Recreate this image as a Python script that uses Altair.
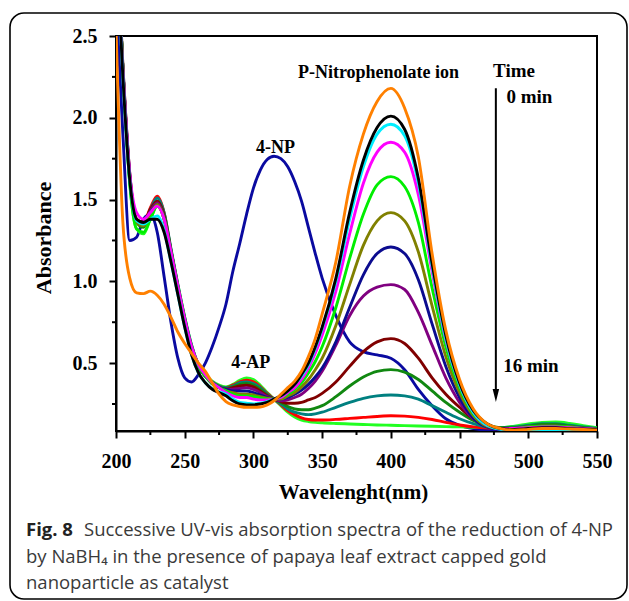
import altair as alt
import pandas as pd

# ---------------- data ----------------
WAVELENGTHS = [200, 205, 210, 215, 220, 225, 230, 235, 240, 245, 250, 255, 260, 265, 270, 275,
               280, 285, 290, 295, 300, 305, 310, 315, 320, 325, 330, 335, 340, 345, 350,
               360, 370, 380, 390, 400, 410, 420, 430, 440, 450, 460, 470, 480, 490, 500,
               510, 520, 530, 540, 550]

NP_ONLY = [2.75, 1.90, 1.25, 1.27, 1.38, 1.41, 1.30, 1.03, 0.75, 0.53, 0.41, 0.385, 0.43, 0.50, 0.60, 0.72,
           0.86, 1.06, 1.23, 1.41, 1.57, 1.68, 1.745, 1.765, 1.75, 1.70, 1.61, 1.49, 1.33, 1.17, 1.02,
           0.79, 0.63, 0.57, 0.55, 0.53, 0.46, 0.34, 0.24, 0.16, 0.12, 0.10, 0.09, 0.088, 0.088, 0.09,
           0.095, 0.095, 0.092, 0.09, 0.088]
ORANGE = [2.55, 1.36, 1.02, 0.93, 0.925, 0.94, 0.915, 0.86, 0.78, 0.69, 0.62, 0.56, 0.50, 0.45, 0.38, 0.31,
          0.265, 0.245, 0.235, 0.23, 0.23, 0.232, 0.245, 0.27, 0.31, 0.35, 0.39, 0.45, 0.54, 0.65, 0.80,
          1.12, 1.58, 1.90, 2.10, 2.18, 2.06, 1.76, 1.17, 0.70, 0.40, 0.22, 0.13, 0.10, 0.09, 0.095,
          0.10, 0.10, 0.097, 0.094, 0.09]
BLACK = [3.1, 2.25, 1.62, 1.38, 1.36, 1.38, 1.38, 1.30, 1.12, 0.92, 0.72, 0.55, 0.44, 0.38, 0.34, 0.32,
         0.30, 0.27, 0.25, 0.245, 0.245, 0.25, 0.26, 0.28, 0.30, 0.33, 0.37, 0.43, 0.50, 0.60, 0.72,
         1.02, 1.42, 1.74, 1.94, 2.01, 1.93, 1.63, 1.11, 0.67, 0.38, 0.21, 0.13, 0.10, 0.095, 0.10,
         0.105, 0.105, 0.10, 0.097, 0.093]
CYAN = [3.1, 2.25, 1.62, 1.37, 1.35, 1.38, 1.40, 1.31, 1.12, 0.92, 0.72, 0.55, 0.44, 0.38, 0.345, 0.325,
        0.31, 0.28, 0.26, 0.255, 0.25, 0.255, 0.265, 0.28, 0.30, 0.33, 0.37, 0.42, 0.49, 0.59, 0.71,
        1.00, 1.38, 1.70, 1.90, 1.96, 1.89, 1.60, 1.09, 0.65, 0.37, 0.20, 0.12, 0.095, 0.085, 0.088,
        0.092, 0.092, 0.09, 0.088, 0.087]
MAGENTA = [3.1, 2.3, 1.66, 1.42, 1.38, 1.42, 1.46, 1.38, 1.18, 0.97, 0.77, 0.60, 0.49, 0.43, 0.38, 0.35,
           0.32, 0.30, 0.29, 0.29, 0.28, 0.275, 0.275, 0.28, 0.29, 0.32, 0.35, 0.40, 0.47, 0.56, 0.67,
           0.94, 1.29, 1.60, 1.79, 1.85, 1.79, 1.53, 1.06, 0.64, 0.37, 0.20, 0.12, 0.10, 0.10, 0.105,
           0.11, 0.11, 0.105, 0.10, 0.095]
GREEN = [3.2, 2.3, 1.60, 1.32, 1.30, 1.38, 1.46, 1.38, 1.17, 0.96, 0.76, 0.59, 0.48, 0.42, 0.375, 0.35,
         0.33, 0.31, 0.30, 0.30, 0.295, 0.285, 0.28, 0.28, 0.29, 0.31, 0.34, 0.38, 0.44, 0.51, 0.60,
         0.84, 1.14, 1.41, 1.59, 1.64, 1.58, 1.36, 0.96, 0.60, 0.35, 0.19, 0.12, 0.10, 0.10, 0.11,
         0.115, 0.115, 0.11, 0.10, 0.095]
OLIVE = [3.2, 2.3, 1.63, 1.36, 1.34, 1.41, 1.47, 1.38, 1.17, 0.96, 0.76, 0.59, 0.48, 0.42, 0.375, 0.35,
         0.33, 0.32, 0.31, 0.31, 0.305, 0.295, 0.285, 0.28, 0.28, 0.30, 0.32, 0.355, 0.40, 0.46, 0.53,
         0.73, 0.98, 1.22, 1.37, 1.42, 1.37, 1.18, 0.85, 0.54, 0.32, 0.18, 0.115, 0.10, 0.10, 0.11,
         0.115, 0.115, 0.11, 0.10, 0.095]
NAVY = [3.2, 2.3, 1.64, 1.37, 1.35, 1.42, 1.47, 1.38, 1.17, 0.96, 0.76, 0.59, 0.48, 0.42, 0.375, 0.35,
        0.34, 0.33, 0.33, 0.33, 0.32, 0.305, 0.29, 0.28, 0.28, 0.29, 0.31, 0.335, 0.37, 0.415, 0.47,
        0.63, 0.84, 1.04, 1.17, 1.21, 1.17, 1.01, 0.74, 0.48, 0.29, 0.165, 0.11, 0.095, 0.095, 0.105,
        0.11, 0.11, 0.105, 0.10, 0.095]
PURPLE = [3.2, 2.3, 1.64, 1.37, 1.35, 1.43, 1.48, 1.39, 1.17, 0.96, 0.76, 0.59, 0.48, 0.42, 0.375, 0.35,
          0.34, 0.34, 0.345, 0.35, 0.34, 0.32, 0.295, 0.28, 0.27, 0.275, 0.29, 0.31, 0.345, 0.39, 0.45,
          0.61, 0.79, 0.91, 0.965, 0.98, 0.95, 0.81, 0.61, 0.41, 0.26, 0.16, 0.11, 0.095, 0.10, 0.11,
          0.115, 0.115, 0.11, 0.10, 0.095]
MAROON = [3.2, 2.3, 1.65, 1.38, 1.36, 1.44, 1.49, 1.40, 1.18, 0.96, 0.76, 0.59, 0.48, 0.42, 0.375, 0.35,
          0.34, 0.35, 0.36, 0.365, 0.355, 0.33, 0.30, 0.28, 0.265, 0.255, 0.255, 0.26, 0.275, 0.29, 0.315,
          0.385, 0.48, 0.57, 0.63, 0.65, 0.62, 0.53, 0.41, 0.31, 0.23, 0.16, 0.12, 0.10, 0.10, 0.11,
          0.115, 0.115, 0.11, 0.10, 0.095]
DARKGREEN = [3.2, 2.3, 1.63, 1.36, 1.33, 1.42, 1.49, 1.41, 1.19, 0.97, 0.77, 0.60, 0.485, 0.42, 0.38, 0.355,
             0.345, 0.355, 0.37, 0.375, 0.365, 0.34, 0.305, 0.28, 0.26, 0.235, 0.22, 0.215, 0.215, 0.225, 0.24,
             0.295, 0.36, 0.415, 0.45, 0.46, 0.445, 0.40, 0.33, 0.26, 0.20, 0.15, 0.12, 0.105, 0.105, 0.115,
             0.125, 0.125, 0.115, 0.105, 0.098]
TEAL = [3.2, 2.32, 1.66, 1.37, 1.34, 1.44, 1.51, 1.42, 1.20, 0.98, 0.78, 0.61, 0.49, 0.425, 0.385, 0.36,
        0.35, 0.36, 0.38, 0.385, 0.375, 0.35, 0.31, 0.28, 0.25, 0.22, 0.20, 0.19, 0.185, 0.19, 0.20,
        0.23, 0.26, 0.285, 0.30, 0.305, 0.30, 0.28, 0.24, 0.20, 0.16, 0.13, 0.11, 0.105, 0.11, 0.12,
        0.13, 0.13, 0.12, 0.11, 0.10]
RED = [3.2, 2.32, 1.66, 1.38, 1.36, 1.45, 1.52, 1.42, 1.19, 0.97, 0.77, 0.60, 0.49, 0.425, 0.385, 0.36,
       0.35, 0.365, 0.385, 0.395, 0.385, 0.355, 0.315, 0.28, 0.245, 0.21, 0.185, 0.165, 0.155, 0.152, 0.152,
       0.156, 0.162, 0.168, 0.174, 0.178, 0.176, 0.168, 0.155, 0.138, 0.122, 0.11, 0.103, 0.10, 0.105, 0.115,
       0.12, 0.12, 0.115, 0.105, 0.098]
LIME = [3.2, 2.3, 1.60, 1.32, 1.29, 1.38, 1.46, 1.39, 1.19, 0.98, 0.78, 0.61, 0.49, 0.43, 0.39, 0.365,
        0.355, 0.37, 0.395, 0.41, 0.40, 0.365, 0.32, 0.28, 0.24, 0.20, 0.17, 0.152, 0.143, 0.138, 0.135,
        0.131, 0.128, 0.125, 0.122, 0.12, 0.118, 0.116, 0.114, 0.112, 0.11, 0.108, 0.106, 0.106, 0.115, 0.128,
        0.138, 0.14, 0.132, 0.118, 0.105]

# drawing order: first is at the bottom
SERIES = [
    ("4-NP", NP_ONLY, "#0a0aa0"),
    ("16 min", LIME, "#22ff22"),
    ("14 min", RED, "#ff0000"),
    ("12 min", TEAL, "#008080"),
    ("10 min", DARKGREEN, "#118811"),
    ("8 min", MAROON, "#800000"),
    ("7 min", PURPLE, "#800080"),
    ("6 min", NAVY, "#0b0b8f"),
    ("5 min", OLIVE, "#808000"),
    ("4 min", GREEN, "#00ee00"),
    ("3 min", MAGENTA, "#ff00ff"),
    ("2 min", CYAN, "#00eeff"),
    ("1 min", BLACK, "#000000"),
    ("0 min", ORANGE, "#ff8000"),
]

X_TICKS = [200, 250, 300, 350, 400, 450, 500, 550]
X_MINOR = [225, 275, 325, 375, 425, 475, 525]
Y_TICKS = [0.5, 1.0, 1.5, 2.0, 2.5]
Y_MINOR = [0.25, 0.75, 1.25, 1.75, 2.25]

LABELS_CENTER = ["4-NP", "4-AP", "P-Nitrophenolate ion"]
LABELS_CENTER_W = [316, 298, 391]
LABELS_CENTER_A = [1.785, 0.47, 2.245]
LABELS_LEFT = ["Time", "0 min", "16 min"]
LABELS_LEFT_W = [474.4, 484.1, 481.7]
LABELS_LEFT_A = [2.252, 2.09, 0.447]
ARROW_W = 476.4
ARROW_TOP = 2.18
ARROW_BOTTOM = 0.32
ARROW_HEAD_A = 0.302

SERIF = "Liberation Serif"
W, H = 481, 395

xscale = alt.Scale(domain=[200, 550], nice=False, zero=False)
yscale = alt.Scale(domain=[0.085, 2.5], nice=False, zero=False)
xaxis = alt.Axis(values=X_TICKS, format="d", title=None, grid=False, tickSize=7, tickWidth=2,
                 tickColor="black", domainColor="black", domainWidth=2, labelFont=SERIF,
                 labelFontSize=20, labelFontWeight="bold", labelColor="black", labelPadding=13,
                 labelFlush=False, labelOverlap=False)
yaxis = alt.Axis(values=Y_TICKS, format=".1f", title=None, grid=False, tickSize=7, tickWidth=2,
                 tickColor="black", domainColor="black", domainWidth=2, labelFont=SERIF,
                 labelFontSize=20, labelFontWeight="bold", labelColor="black", labelPadding=12,
                 labelFlush=False, labelOverlap=False)


def X(field):
    return alt.X(field, type="quantitative", scale=xscale, axis=xaxis)


def Y(field):
    return alt.Y(field, type="quantitative", scale=yscale, axis=yaxis)


layers = []
for name, vals, color in SERIES:
    df = pd.DataFrame({"w": WAVELENGTHS, "a": vals})
    layers.append(
        alt.Chart(df).mark_line(color=color, strokeWidth=2.9, interpolate="monotone", clip=True)
        .encode(x=X("w"), y=Y("a"))
    )

# minor ticks
xminor = alt.Chart(pd.DataFrame({"w": X_MINOR})).mark_rule(color="black", strokeWidth=2).encode(
    x=X("w"), y=alt.value(H), y2=alt.value(H + 4))
yminor = alt.Chart(pd.DataFrame({"a": Y_MINOR})).mark_rule(color="black", strokeWidth=2).encode(
    y=Y("a"), x=alt.value(-4), x2=alt.value(0))

# annotations
ann_c = alt.Chart(pd.DataFrame({"t": LABELS_CENTER, "w": LABELS_CENTER_W, "a": LABELS_CENTER_A})).mark_text(
    font=SERIF, fontWeight="bold", fontSize=18, align="center", baseline="alphabetic", color="black"
).encode(x=X("w"), y=Y("a"), text="t:N")
ann_l = alt.Chart(pd.DataFrame({"t": LABELS_LEFT, "w": LABELS_LEFT_W, "a": LABELS_LEFT_A})).mark_text(
    font=SERIF, fontWeight="bold", fontSize=19, align="left", baseline="alphabetic", color="black"
).encode(x=X("w"), y=Y("a"), text="t:N")

arrow = alt.Chart(pd.DataFrame({"w": [ARROW_W], "a1": [ARROW_TOP], "a2": [ARROW_BOTTOM]})).mark_rule(
    color="black", strokeWidth=2).encode(x=X("w"), y=Y("a1"), y2="a2:Q")
head = alt.Chart(pd.DataFrame({"w": [ARROW_W], "a": [ARROW_HEAD_A]})).mark_point(
    shape="M-0.5,-1L0.5,-1L0,1Z", filled=True, color="black", opacity=1, size=169, strokeWidth=0
).encode(x=X("w"), y=Y("a"))

one = pd.DataFrame({"k": [0]})
xtitle = alt.Chart(one).mark_text(text="Wavelenght(nm)", font=SERIF, fontWeight="bold", fontSize=21,
                                  align="center", baseline="alphabetic", color="black").encode(
    x=alt.value(237.5), y=alt.value(463))
ytitle = alt.Chart(one).mark_text(text="Absorbance", font=SERIF, fontWeight="bold", fontSize=22,
                                  align="center", baseline="middle", angle=270, color="black").encode(
    x=alt.value(-72), y=alt.value(202))

CAP_FONT = "Open Sans"
CAP_SIZE = 18.5
cap_bold = alt.Chart(one).mark_text(text="Fig. 8", font=CAP_FONT, fontWeight="bold", fontSize=CAP_SIZE,
                                    align="left", baseline="alphabetic", color="#222222").encode(
    x=alt.value(-90), y=alt.value(500))
cap1 = alt.Chart(one).mark_text(text="Successive UV-vis absorption spectra of the reduction of 4-NP",
                                font=CAP_FONT, fontSize=CAP_SIZE, align="left", baseline="alphabetic",
                                color="#3a3a3a").encode(x=alt.value(-32), y=alt.value(500))
cap2 = alt.Chart(one).mark_text(text="by NaBH\u2084 in the presence of papaya leaf extract capped gold",
                                font=CAP_FONT, fontSize=CAP_SIZE, align="left", baseline="alphabetic",
                                color="#3a3a3a").encode(x=alt.value(-90), y=alt.value(526.7))
cap3 = alt.Chart(one).mark_text(text="nanoparticle as catalyst",
                                font=CAP_FONT, fontSize=CAP_SIZE, align="left", baseline="alphabetic",
                                color="#3a3a3a").encode(x=alt.value(-90), y=alt.value(553.3))

frame = alt.Chart(one).mark_rect(fill=None, filled=False, stroke="black", strokeWidth=1.6,
                                 cornerRadius=14).encode(
    x=alt.value(-106), x2=alt.value(511), y=alt.value(-23), y2=alt.value(563))

chart = alt.layer(
    *layers, xminor, yminor, arrow, head, ann_c, ann_l, xtitle, ytitle, cap_bold, cap1, cap2, cap3, frame
).properties(
    width=W, height=H, autosize="none",
    padding={"left": 116, "top": 36, "right": 32, "bottom": 170},
    background="white",
).configure_view(stroke="black", strokeWidth=2)

chart.save("out.html", embed_options={"renderer": "svg", "actions": False})
